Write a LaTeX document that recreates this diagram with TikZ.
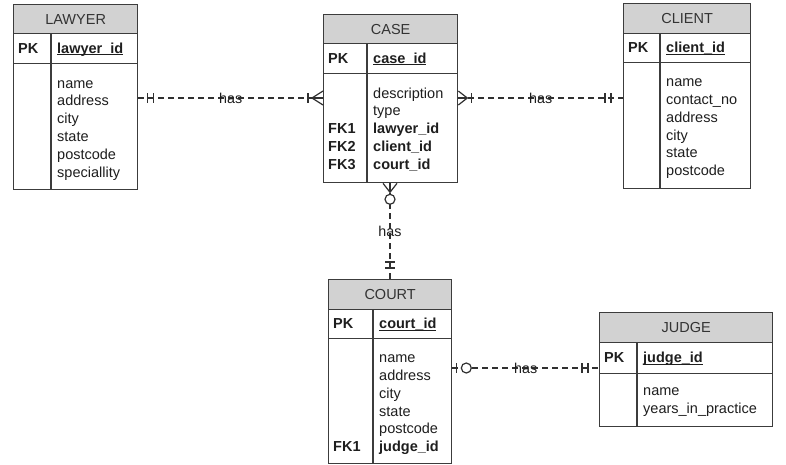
\documentclass[tikz,border=0pt]{standalone}
\usepackage{fontspec}
\setmainfont{Liberation Sans}
\usetikzlibrary{calc}
\definecolor{hdrfill}{HTML}{D2D2D2}
\definecolor{bordercol}{HTML}{3C3C3C}
\definecolor{titlecol}{HTML}{333333}
\definecolor{txtcol}{HTML}{1E1E1E}
\definecolor{linecol}{HTML}{303030}
\newcommand\pkline[1]{\setbox0\hbox{#1}\rlap{\rule[-2.2pt]{\wd0}{0.9pt}}\box0}
\newcommand\erfont{\fontsize{14.5}{17.8}\selectfont}
\tikzset{
  ent/.style={draw=bordercol, line width=1.3pt, rectangle, inner sep=0pt, anchor=north west},
  hdr/.style={ent, fill=hdrfill, font=\erfont, text=titlecol},
  entline/.style={draw=bordercol, line width=1.3pt},
  txt/.style={inner sep=0pt, anchor=base west, font=\erfont, text=txtcol},
  keyt/.style={txt, font=\erfont\bfseries},
  lines/.style={inner sep=0pt, anchor=north west, align=left, font=\erfont, text=txtcol},
  conn/.style={draw=linecol, line width=1.2pt, dash pattern=on 6pt off 4pt},
  sym/.style={draw=linecol, line width=1.2pt},
  lbl/.style={inner sep=0pt, font=\fontsize{14.3}{16}\selectfont, text=txtcol}
}
\begin{document}
\begin{tikzpicture}[x=1pt,y=-1pt]
\useasboundingbox (0,0) rectangle (786,464);

% ---------- LAWYER ----------
\node[hdr, minimum width=124pt, minimum height=29pt] (lawyerH) at (13,4) {LAWYER};
\node[ent, minimum width=124pt, minimum height=30pt] (lawyerP) at (13,33) {};
\node[ent, minimum width=124pt, minimum height=126pt] (lawyerB) at (13,63) {};
\draw[entline] (51,33) -- (51,189);
\node[keyt] (lawyerPK) at (18,53) {PK};
\node[keyt] (lawyerID) at (57,53) {\pkline{lawyer\_id}};
\node[lines] (lawyerA) at (57,75.5) {\strut name\\address\\city\\state\\postcode\\speciallity};

% ---------- CASE ----------
\node[hdr, minimum width=134pt, minimum height=29pt] (caseH) at (323,14) {CASE};
\node[ent, minimum width=134pt, minimum height=30pt] (caseP) at (323,43) {};
\node[ent, minimum width=134pt, minimum height=109pt] (caseB) at (323,73) {};
\draw[entline] (367,43) -- (367,182);
\node[keyt] (casePK) at (328,63) {PK};
\node[keyt] (caseID) at (373,63) {\pkline{case\_id}};
\node[lines] (caseA) at (373,85.5) {\strut description\\type\\\textbf{lawyer\_id}\\\textbf{client\_id}\\\textbf{court\_id}};
\node[lines, font=\erfont\bfseries] (caseFK) at (328,121.1) {\strut FK1\\FK2\\FK3};

% ---------- CLIENT ----------
\node[hdr, minimum width=127pt, minimum height=30pt] (clientH) at (623,3) {CLIENT};
\node[ent, minimum width=127pt, minimum height=29pt] (clientP) at (623,33) {};
\node[ent, minimum width=127pt, minimum height=126pt] (clientB) at (623,62) {};
\draw[entline] (660,33) -- (660,188);
\node[keyt] (clientPK) at (628,52.7) {PK};
\node[keyt] (clientID) at (666,52.7) {\pkline{client\_id}};
\node[lines] (clientA) at (666,74) {\strut name\\contact\_no\\address\\city\\state\\postcode};

% ---------- COURT ----------
\node[hdr, minimum width=123pt, minimum height=30pt] (courtH) at (328,279) {COURT};
\node[ent, minimum width=123pt, minimum height=29pt] (courtP) at (328,309) {};
\node[ent, minimum width=123pt, minimum height=125pt] (courtB) at (328,338) {};
\draw[entline] (373,309) -- (373,463);
\node[keyt] (courtPK) at (333,328.7) {PK};
\node[keyt] (courtID) at (379,328.7) {\pkline{court\_id}};
\node[lines] (courtA) at (379,350) {\strut name\\address\\city\\state\\postcode\\\textbf{judge\_id}};
\node[keyt] (courtFK) at (333,451.5) {FK1};

% ---------- JUDGE ----------
\node[hdr, minimum width=173pt, minimum height=30pt] (judgeH) at (599,312) {JUDGE};
\node[ent, minimum width=173pt, minimum height=31pt] (judgeP) at (599,342) {};
\node[ent, minimum width=173pt, minimum height=53pt] (judgeB) at (599,373) {};
\draw[entline] (637,342) -- (637,426);
\node[keyt] (judgePK) at (604,362.7) {PK};
\node[keyt] (judgeID) at (643,362.7) {\pkline{judge\_id}};
\node[lines] (judgeA) at (643,383) {\strut name\\years\_in\_practice};

% ---------- connector end points ----------
\coordinate (lcA) at (lawyerB.north east |- 0,98);
\coordinate (lcB) at (caseB.north west |- 0,98);
\coordinate (ccA) at (caseB.north east |- 0,98);
\coordinate (ccB) at (clientB.north west |- 0,98);
\coordinate (cuA) at (caseB.south west -| 390,0);
\coordinate (cuB) at (courtH.north west -| 390,0);
\coordinate (cjA) at (courtB.north east |- 0,368);
\coordinate (cjB) at (judgeB.north west |- 0,368);

% ---------- LAWYER -- CASE ----------
\draw[conn] (lcA) -- node[lbl] (has1) {has} (lcB);
\draw[sym] ($(lcA)+(9,-5)$) -- ($(lcA)+(9,5)$);
\draw[sym] ($(lcA)+(15,-5)$) -- ($(lcA)+(15,5)$);
\draw[sym] ($(lcB)+(-15,-5)$) -- ($(lcB)+(-15,5)$);
\draw[sym] ($(lcB)+(0,-7)$) -- ($(lcB)+(-11,0)$) -- ($(lcB)+(0,7)$);
\draw[sym] ($(lcB)+(-11,0)$) -- (lcB);

% ---------- CASE -- CLIENT ----------
\draw[conn] (ccA) -- node[lbl] (has2) {has} (ccB);
\draw[sym] ($(ccA)+(0,-7)$) -- ($(ccA)+(9,0)$) -- ($(ccA)+(0,7)$);
\draw[sym] (ccA) -- ($(ccA)+(9,0)$);
\draw[sym] ($(ccA)+(13,-5)$) -- ($(ccA)+(13,5)$);
\draw[sym] ($(ccB)+(-12,-5)$) -- ($(ccB)+(-12,5)$);
\draw[sym] ($(ccB)+(-18,-5)$) -- ($(ccB)+(-18,5)$);

% ---------- CASE -- COURT ----------
\draw[conn] (cuA) -- node[lbl] (has3) {has} (cuB);
\draw[sym] ($(cuA)+(-7,0)$) -- ($(cuA)+(0,9)$) -- ($(cuA)+(7,0)$);
\draw[sym] (cuA) -- ($(cuA)+(0,9)$);
\draw[sym, fill=white] ($(cuA)+(0,16)$) circle[radius=5pt];
\draw[sym] ($(cuB)+(-5,-11)$) -- ($(cuB)+(5,-11)$);
\draw[sym] ($(cuB)+(-5,-17)$) -- ($(cuB)+(5,-17)$);

% ---------- COURT -- JUDGE ----------
\draw[conn] (cjA) -- node[lbl] (has4) {has} (cjB);
\draw[sym] ($(cjA)+(4,-5)$) -- ($(cjA)+(4,5)$);
\draw[sym, fill=white] ($(cjA)+(14,0)$) circle[radius=5pt];
\draw[sym] ($(cjB)+(-11,-5)$) -- ($(cjB)+(-11,5)$);
\draw[sym] ($(cjB)+(-17,-5)$) -- ($(cjB)+(-17,5)$);
\end{tikzpicture}
\end{document}
